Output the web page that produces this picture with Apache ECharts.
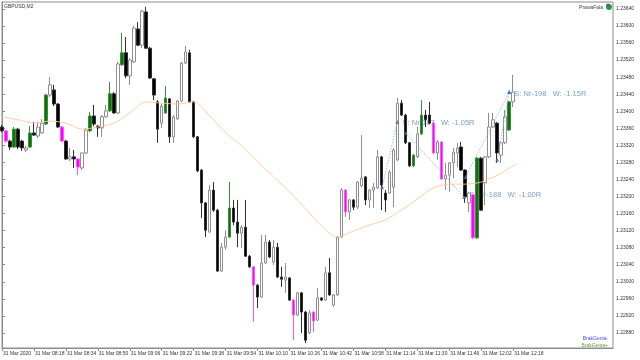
<!DOCTYPE html>
<html><head><meta charset="utf-8">
<script src="https://cdn.jsdelivr.net/npm/echarts@6/dist/echarts.min.js"></script>
<style>html,body{margin:0;padding:0;background:#fff}#c{width:640px;height:360px}</style>
</head><body><div id="c"></div>
<script>
const symbolTitle = 'GBPUSD,M2';
const tickLabels = ['31 Mar 2020','31 Mar 08:18','31 Mar 08:34','31 Mar 08:50','31 Mar 09:06','31 Mar 09:22','31 Mar 09:38','31 Mar 09:54','31 Mar 10:10','31 Mar 10:26','31 Mar 10:42','31 Mar 10:58','31 Mar 11:14','31 Mar 11:30','31 Mar 11:46','31 Mar 12:02','31 Mar 12:18'];
const priceTicks = [1.22880,1.22920,1.22960,1.23000,1.23040,1.23080,1.23120,1.23160,1.23200,1.23240,1.23280,1.23320,1.23360,1.23400,1.23440,1.23480,1.23520,1.23560,1.23600,1.23640];

const opens = [1.23363,1.23354,1.23330,1.23316,1.23358,1.23330,1.23309,1.23316,1.23349,1.23342,
1.23349,1.23370,1.23438,1.23450,1.23417,1.23363,1.23330,1.23288,1.23293,1.23288,
1.23267,1.23302,1.23354,1.23389,1.23365,1.23361,1.23387,1.23401,1.23441,1.23396,
1.23509,1.23537,1.23483,1.23516,1.23593,1.23555,1.23633,1.23548,1.23476,1.23422,
1.23372,1.23396,1.23429,1.23340,1.23382,1.23424,1.23513,1.23537,1.23422,1.23340,
1.23262,1.23185,1.23117,1.23215,1.23168,1.23025,1.23081,1.23105,1.23173,1.23140,
1.23114,1.23128,1.23060,1.23035,1.22992,1.22964,1.23044,1.23093,1.23046,1.23081,
1.23011,1.23004,1.23009,1.22957,1.22922,1.22974,1.22929,1.22880,1.22929,1.22910,
1.22962,1.22957,1.23021,1.22945,1.22969,1.23105,1.23215,1.23164,1.23192,1.23175,
1.23225,1.23246,1.23192,1.23215,1.23220,1.23293,1.23208,1.23208,1.23222,1.23286,
1.23419,1.23391,1.23326,1.23272,1.23293,1.23347,1.23391,1.23391,1.23372,1.23302,
1.23328,1.23241,1.23250,1.23279,1.23302,1.23316,1.23262,1.23185,1.23204,1.23103,
1.23290,1.23232,1.23293,1.23363,1.23372,1.23297,1.23326,1.23356,1.23422];
const closes = [1.23354,1.23330,1.23316,1.23358,1.23316,1.23314,1.23314,1.23349,1.23344,1.23363,
1.23372,1.23438,1.23462,1.23417,1.23363,1.23330,1.23288,1.23293,1.23288,1.23269,
1.23302,1.23356,1.23389,1.23370,1.23361,1.23387,1.23401,1.23441,1.23396,1.23511,
1.23537,1.23483,1.23520,1.23595,1.23555,1.23635,1.23548,1.23478,1.23438,1.23358,
1.23412,1.23431,1.23340,1.23387,1.23424,1.23513,1.23539,1.23422,1.23340,1.23260,
1.23185,1.23121,1.23215,1.23168,1.23025,1.23081,1.23105,1.23173,1.23140,1.23114,
1.23128,1.23060,1.23035,1.22992,1.22964,1.23044,1.23093,1.23058,1.23081,1.23011,
1.23006,1.23011,1.22957,1.22922,1.22974,1.22929,1.22863,1.22927,1.22908,1.22962,
1.22957,1.23021,1.22969,1.22969,1.23105,1.23215,1.23164,1.23192,1.23175,1.23234,
1.23243,1.23192,1.23215,1.23222,1.23293,1.23227,1.23192,1.23257,1.23309,1.23419,
1.23391,1.23326,1.23272,1.23297,1.23347,1.23391,1.23380,1.23372,1.23302,1.23328,
1.23241,1.23250,1.23279,1.23304,1.23314,1.23262,1.23199,1.23208,1.23103,1.23290,
1.23168,1.23293,1.23363,1.23380,1.23302,1.23326,1.23387,1.23422,1.23445];
const lows = [1.23351,1.23326,1.23309,1.23314,1.23311,1.23307,1.23304,1.23314,1.23342,1.23337,
1.23347,1.23368,1.23433,1.23412,1.23361,1.23328,1.23286,1.23283,1.23267,1.23250,
1.23262,1.23300,1.23351,1.23365,1.23340,1.23340,1.23384,1.23398,1.23394,1.23394,
1.23506,1.23478,1.23462,1.23513,1.23553,1.23548,1.23546,1.23476,1.23426,1.23326,
1.23361,1.23394,1.23326,1.23326,1.23380,1.23422,1.23511,1.23419,1.23337,1.23257,
1.23150,1.23105,1.23114,1.23164,1.23023,1.23023,1.23075,1.23103,1.23133,1.23081,
1.23079,1.23058,1.23032,1.22906,1.22938,1.22962,1.23042,1.23056,1.23039,1.23009,
1.22988,1.22974,1.22955,1.22863,1.22920,1.22880,1.22856,1.22877,1.22882,1.22908,
1.22955,1.22955,1.22967,1.22941,1.22967,1.23103,1.23152,1.23145,1.23168,1.23171,
1.23222,1.23180,1.23173,1.23173,1.23218,1.23168,1.23164,1.23206,1.23175,1.23283,
1.23389,1.23323,1.23269,1.23269,1.23290,1.23344,1.23363,1.23370,1.23300,1.23286,
1.23239,1.23215,1.23211,1.23243,1.23269,1.23260,1.23185,1.23164,1.23100,1.23100,
1.23166,1.23180,1.23290,1.23361,1.23279,1.23279,1.23323,1.23354,1.23410];
const highs = [1.23368,1.23356,1.23333,1.23363,1.23361,1.23333,1.23319,1.23365,1.23375,1.23375,
1.23382,1.23441,1.23480,1.23462,1.23419,1.23365,1.23333,1.23314,1.23309,1.23290,
1.23304,1.23361,1.23398,1.23415,1.23368,1.23391,1.23415,1.23469,1.23445,1.23516,
1.23584,1.23574,1.23525,1.23600,1.23609,1.23638,1.23645,1.23551,1.23478,1.23426,
1.23417,1.23459,1.23431,1.23391,1.23426,1.23516,1.23553,1.23544,1.23424,1.23342,
1.23264,1.23187,1.23227,1.23234,1.23171,1.23091,1.23121,1.23234,1.23192,1.23192,
1.23133,1.23192,1.23063,1.23037,1.22995,1.23110,1.23110,1.23098,1.23098,1.23091,
1.23035,1.23044,1.23011,1.22960,1.22976,1.22976,1.22931,1.22934,1.22931,1.22985,
1.22964,1.23035,1.23056,1.22971,1.23107,1.23220,1.23218,1.23194,1.23194,1.23236,
1.23344,1.23248,1.23218,1.23232,1.23309,1.23295,1.23215,1.23262,1.23314,1.23431,
1.23426,1.23394,1.23328,1.23300,1.23363,1.23426,1.23403,1.23422,1.23375,1.23333,
1.23330,1.23279,1.23281,1.23314,1.23326,1.23328,1.23264,1.23211,1.23206,1.23293,
1.23293,1.23295,1.23396,1.23396,1.23375,1.23328,1.23403,1.23424,1.23485];
// candle kind: k = bear (black), w = bull (white), g = BrakGenia+ (green), m = BrakGenia- (magenta)
const kinds = ('kmkgkkwgkw'+'wgwkkmkwkm'+'wwgkkwwgkw'+'gkwwkwkkkk'+'wgkwwwwkkk'+
  'kkwkkwwgkk'+'wkkmkwwkwk'+'kwkmwkkwmw'+'kwkwwwmwkw'+'wkwwwkkwww'+
  'kkkgwgkkmw'+'mwwwwkkwmg'+'kwwwkwwgw').split('');

const maIndex = [0,4,8,12,16,20,24,28,32,36,40,44,48,52,56,60,64,68,72,76,80,84,88,92,96,100,104,108,112,116,120,124,128,129];
const maValues = [1.23387,1.23380,1.23372,1.23377,1.23372,1.23358,1.23363,1.23372,1.23396,1.23422,1.23419,1.23417,1.23422,1.23389,1.23349,1.23319,1.23283,1.23246,1.23211,1.23171,1.23131,1.23105,1.23119,1.23133,1.23145,1.23168,1.23194,1.23220,1.23229,1.23229,1.23234,1.23250,1.23272,1.23276];

const tradeFromIdx = [95.2, 101.1, 116.1, 124.0];
const tradeFromPrice = [1.23222, 1.23349, 1.23246, 1.23286];
const tradeToIdx = [99.0, 115.7, 127.0, 127.0];
const tradeToPrice = [1.23375, 1.23199, 1.23445, 1.23445];
const tradeLabelIdx = [100.3, 117.0, 128.3];
const tradeLabelPrice = [1.23372, 1.23204, 1.23441];
const tradeLabelText = ['S: Nr-187   W: -1.05R', 'S: Nr-188   W: -1.00R', 'S: Nr-198   W: -1.15R'];

const slotCount = 154;
const slots = [];
for (let i = 0; i < slotCount; i++) slots.push(String(i));

const kindStyle = {
  k: {color: '#000000', border: '#303030'},
  w: {color: '#ffffff', border: '#8f8f8f'},
  g: {color: '#0a760a', border: '#3c8a3c'},
  m: {color: '#ff00ff', border: '#ff55ff'}
};
const candleData = opens.map((o, i) => {
  const s = kindStyle[kinds[i]];
  return {value: [o, closes[i], lows[i], highs[i]],
    itemStyle: {color: s.color, color0: s.color, borderColor: s.border, borderColor0: s.border, borderWidth: 1}};
});
const maData = maIndex.map((x, i) => [x, maValues[i]]);
const tradeSeries = tradeFromIdx.map((x, i) => ({
  type: 'line', xAxisIndex: 1, yAxisIndex: 0, z: 5, silent: true, symbol: 'none',
  lineStyle: {color: '#8fa9d0', width: 0.8, type: [1.5, 1.5]},
  data: [[x, tradeFromPrice[i]], [tradeToIdx[i], tradeToPrice[i]]]
}));
const markerPts = [];
tradeFromIdx.forEach((x, i) => { markerPts.push([x, tradeFromPrice[i]]); markerPts.push([tradeToIdx[i], tradeToPrice[i]]); });

const isTick = (idx) => idx % 8 === 0 && idx <= 128;
const chart = echarts.init(document.getElementById('c'), null, {renderer: 'canvas'});
chart.setOption({
  animation: false,
  backgroundColor: '#ffffff',
  grid: {left: 2, right: 27, top: 2, bottom: 12, show: true, borderColor: '#8c8c8c', borderWidth: 1, backgroundColor: '#ffffff'},
  xAxis: [{
    type: 'category', data: slots, boundaryGap: false,
    axisLine: {show: true, lineStyle: {color: '#8c8c8c'}},
    axisTick: {show: true, interval: (i) => isTick(i), length: 3, lineStyle: {color: '#8c8c8c'}},
    axisLabel: {interval: (i) => isTick(i), formatter: (v, i) => tickLabels[i / 8] || '', align: 'left', margin: 3,
      fontSize: 5, color: '#333', fontFamily: 'Liberation Sans', padding: [0, 0, 0, 1]},
    splitLine: {show: false}
  }, {
    type: 'value', min: 0, max: slotCount - 1, show: false
  }],
  yAxis: [{
    type: 'value', position: 'right', min: 1.228446, max: 1.236563, scale: true,
    axisLine: {show: true, lineStyle: {color: '#8c8c8c'}},
    axisTick: {show: true, customValues: priceTicks, length: 3, lineStyle: {color: '#8c8c8c'}},
    axisLabel: {customValues: priceTicks, formatter: (v) => v.toFixed(5), margin: 3, fontSize: 5, color: '#333', fontFamily: 'Liberation Sans'},
    splitLine: {show: false}
  }],
  series: [
    {
      type: 'scatter', xAxisIndex: 1, yAxisIndex: 0, z: 1, silent: true, symbolSize: 0,
      data: tradeLabelIdx.map((x, i) => ({value: [x, tradeLabelPrice[i]], name: tradeLabelText[i]})),
      label: {show: true, position: 'right', distance: 0, formatter: (p) => p.name, color: '#5a86c0', fontSize: 7.5, fontFamily: 'Liberation Sans'}
    },
    {
      type: 'candlestick', xAxisIndex: 0, yAxisIndex: 0, z: 2, barWidth: 3, silent: true,
      data: candleData
    },
    {
      type: 'line', xAxisIndex: 1, yAxisIndex: 0, z: 4, symbol: 'none', smooth: 0.3, silent: true,
      lineStyle: {color: '#ffc8a0', width: 0.9}, data: maData
    },
    ...tradeSeries,
    {
      type: 'scatter', xAxisIndex: 1, yAxisIndex: 0, z: 6, silent: true, symbol: 'triangle', symbolSize: 4,
      itemStyle: {color: '#3f6fb0'}, data: markerPts
    }
  ],
  graphic: [
    {type: 'text', left: 4, top: 4, style: {text: symbolTitle, font: '5px "Liberation Sans"', fill: '#333'}},
    {type: 'text', right: 37, top: 5, style: {text: 'PrawaFala', font: '5px "Liberation Sans"', fill: '#444'}},
    {type: 'circle', shape: {cx: 609, cy: 7, r: 3}, style: {fill: '#2f9a3c'}},
    {type: 'circle', shape: {cx: 608, cy: 5, r: 1.6}, style: {fill: '#2e5fb0'}},
    {type: 'text', right: 32, top: 336, style: {text: 'BrakGenia-', font: '5px "Liberation Sans"', fill: '#4a4aff'}},
    {type: 'text', right: 32, top: 343, style: {text: 'BrakGenia+', font: '5px "Liberation Sans"', fill: '#6f9a2a'}}
  ]
});
</script></body></html>
